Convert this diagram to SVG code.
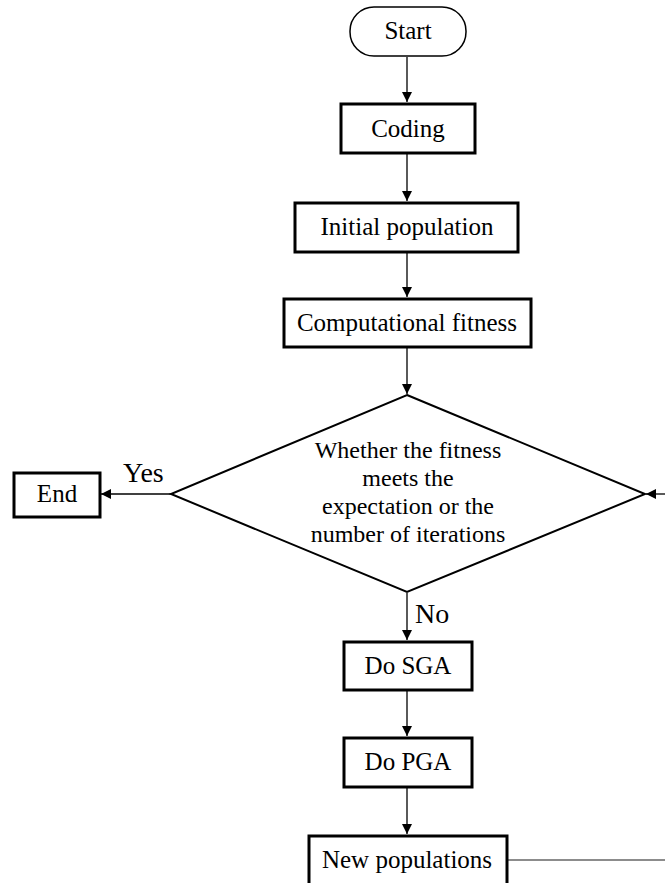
<svg xmlns="http://www.w3.org/2000/svg" width="665" height="883" viewBox="0 0 665 883">
<style>
  .box { fill: #fff; stroke: #000; stroke-width: 3; }
  .term { fill: #fff; stroke: #000; stroke-width: 1.5; }
  .dia { fill: #fff; stroke: #000; stroke-width: 2; }
  .t { font-family: "Liberation Serif", "Times New Roman", serif; font-size: 25px; fill: #000; text-anchor: middle; }
  .td { font-family: "Liberation Serif", "Times New Roman", serif; font-size: 24px; fill: #000; text-anchor: middle; }
  .lbl { font-family: "Liberation Serif", "Times New Roman", serif; font-size: 28px; fill: #000; }
  .conn { stroke: #000; stroke-width: 1.3; fill: none; }
</style>
<defs>
  <marker id="arr" viewBox="0 0 10 10" refX="10" refY="5" markerWidth="10" markerHeight="10" markerUnits="userSpaceOnUse" orient="auto">
    <path d="M0,0 L10,5 L0,10 z" fill="#000"/>
  </marker>
</defs>
<rect width="665" height="883" fill="#fff"/>
<g id="connectors">
  <line class="conn" x1="407" y1="57" x2="407" y2="102" marker-end="url(#arr)"/>
  <line class="conn" x1="407" y1="154" x2="407" y2="201" marker-end="url(#arr)"/>
  <line class="conn" x1="407" y1="253" x2="407" y2="297" marker-end="url(#arr)"/>
  <line class="conn" x1="407" y1="348" x2="407" y2="394" marker-end="url(#arr)"/>
  <line class="conn" x1="407" y1="593" x2="407" y2="640" marker-end="url(#arr)"/>
  <line class="conn" x1="407" y1="691" x2="407" y2="736" marker-end="url(#arr)"/>
  <line class="conn" x1="407" y1="788" x2="407" y2="834" marker-end="url(#arr)"/>
  <line class="conn" x1="171" y1="494" x2="101" y2="494" marker-end="url(#arr)"/>
  <line class="conn" x1="665" y1="494" x2="646" y2="494" marker-end="url(#arr)"/>
  <line x1="508" y1="860" x2="665" y2="860" stroke="#666" stroke-width="1.5"/>
  <text class="lbl" x="123" y="482">Yes</text>
  <text class="lbl" x="415" y="623">No</text>
</g>
<g id="start">
  <rect class="term" x="350" y="7" width="116" height="49" rx="24" ry="24"/>
  <text class="t" x="408" y="39">Start</text>
</g>
<g id="coding">
  <rect class="box" x="341" y="104" width="134" height="49"/>
  <text class="t" x="408" y="137">Coding</text>
</g>
<g id="initial">
  <rect class="box" x="295" y="203" width="223" height="49"/>
  <text class="t" x="407" y="235">Initial population</text>
</g>
<g id="fitness">
  <rect class="box" x="284" y="299" width="247" height="48"/>
  <text class="t" x="407" y="331">Computational fitness</text>
</g>
<g id="decision">
  <polygon class="dia" points="407,395 645,494 407,592 171,494"/>
  <text class="td" x="408" y="458">Whether the fitness</text>
  <text class="td" x="408" y="486">meets the</text>
  <text class="td" x="408" y="514">expectation or the</text>
  <text class="td" x="408" y="542">number of iterations</text>
</g>
<g id="end">
  <rect class="box" x="14" y="473" width="86" height="44"/>
  <text class="t" x="57" y="502">End</text>
</g>
<g id="sga">
  <rect class="box" x="344" y="642" width="128" height="48"/>
  <text class="t" x="408" y="674">Do SGA</text>
</g>
<g id="pga">
  <rect class="box" x="344" y="738" width="128" height="49"/>
  <text class="t" x="408" y="770">Do PGA</text>
</g>
<g id="newpop">
  <rect class="box" x="309" y="836" width="198" height="60"/>
  <text class="t" x="407" y="868">New populations</text>
</g>
</svg>
